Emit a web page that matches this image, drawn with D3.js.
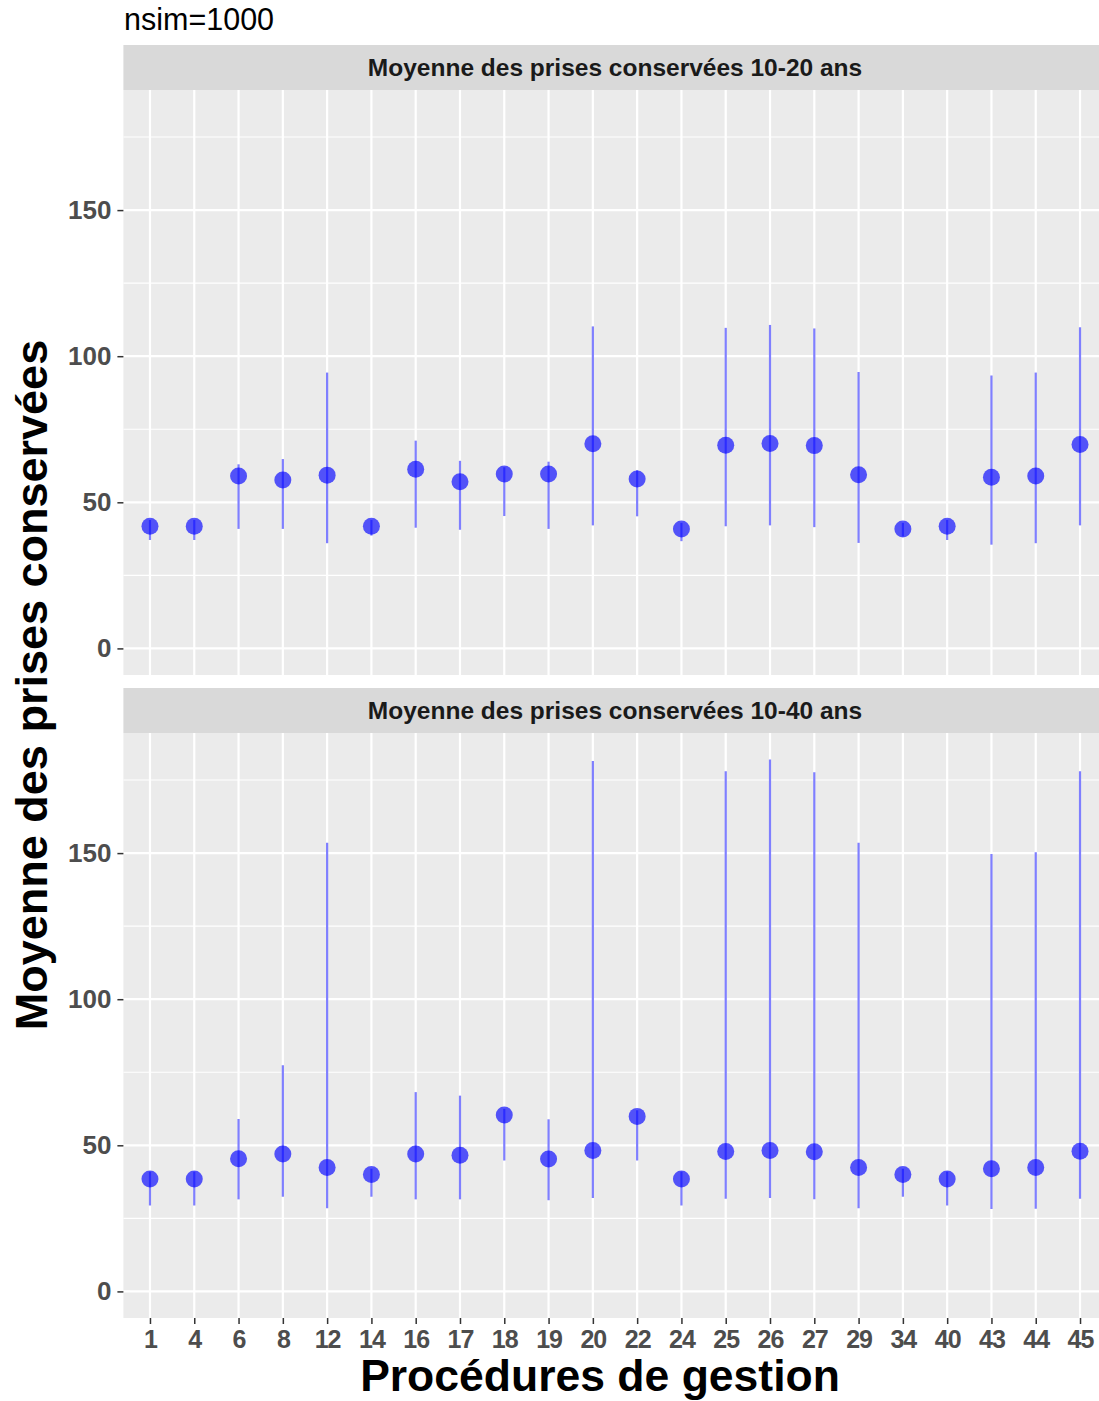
<!DOCTYPE html>
<html>
<head>
<meta charset="utf-8">
<script src="https://cdn.jsdelivr.net/npm/d3@7"></script>
<style>
  body { margin: 0; background: #fff; }
  svg { display: block; font-family: "Liberation Sans", Arial, sans-serif; }
</style>
</head>
<body>
<svg id="chart" width="1099" height="1401"></svg>
<script>
// procedures (x categories)
var categories = ["1", "4", "6", "8", "12", "14", "16", "17", "18", "19", "20",
  "22", "24", "25", "26", "27", "29", "34", "40", "43", "44", "45"];

var panelTitles = ["Moyenne des prises conservées 10-20 ans",
  "Moyenne des prises conservées 10-40 ans"];

// 10-20 ans
var mean1 = [41.8, 41.8, 59.0, 57.6, 59.3, 41.8, 61.3, 57.0, 59.7, 59.7, 70.0,
  58.0, 40.9, 69.5, 70.1, 69.4, 59.4, 40.9, 41.8, 58.6, 59.0, 69.8];
var low1 = [37.1, 37.1, 40.9, 40.9, 36.0, 38.6, 41.3, 40.6, 45.3, 40.9, 42.1,
  45.2, 36.7, 41.8, 42.1, 41.5, 36.1, 38.3, 37.1, 35.5, 36.0, 42.1];
var high1 = [44, 44, 63.0, 64.8, 94.4, 44, 71.1, 64.2, 62, 63.9, 110.2,
  61, 43, 109.7, 110.7, 109.5, 94.6, 43, 44, 93.4, 94.4, 109.9];

// 10-40 ans
var mean2 = [38.5, 38.5, 45.4, 47.0, 42.4, 40.0, 47.0, 46.6, 60.4, 45.3, 48.2,
  59.9, 38.5, 47.9, 48.2, 47.8, 42.4, 40.0, 38.5, 42.0, 42.4, 48.0];
var low2 = [29.4, 29.4, 31.5, 32.4, 28.5, 32.4, 31.5, 31.5, 44.8, 31.2, 32.0,
  44.8, 29.4, 31.7, 32.0, 31.5, 28.5, 32.4, 29.4, 28.2, 28.3, 31.7];
var high2 = [41, 41, 59.0, 77.4, 153.5, 42, 68.2, 67.0, 62.5, 58.9, 181.5,
  62, 41, 178, 182, 177.7, 153.5, 42, 41, 149.7, 150.3, 178];

var yTicks = [0, 50, 100, 150];
var yMinor = [25, 75, 125, 175];

(function () {
  "use strict";
  var svg = d3.select("#chart");

  var left = 123.4, right = 1106.6;     // panel runs past the right edge (cropped)
  var panels = [
    { top: 90, bottom: 675, strip: 45, mean: mean1, low: low1, high: high1, title: panelTitles[0] },
    { top: 733, bottom: 1318, strip: 688, mean: mean2, low: low2, high: high2, title: panelTitles[1] }
  ];

  var x = d3.scalePoint().domain(categories).range([left, right]).padding(0.6);

  // fixed y scale shared by facets, limits include 0, expanded 5%
  var ymax = d3.max(high1.concat(high2));
  var span = ymax - 0;

  panels.forEach(function (p, pi) {
    var y = d3.scaleLinear()
      .domain([0 - 0.05 * span, ymax + 0.05 * span])
      .range([p.bottom, p.top]);

    // strip
    svg.append("rect")
      .attr("x", left).attr("y", p.strip)
      .attr("width", right - left).attr("height", p.top - p.strip)
      .attr("fill", "#D9D9D9");
    svg.append("text")
      .attr("x", (left + right) / 2).attr("y", (p.strip + p.top) / 2 + 8.5)
      .attr("text-anchor", "middle")
      .attr("font-size", 24.5).attr("font-weight", "bold").attr("fill", "#1A1A1A")
      .text(p.title);

    // panel background
    svg.append("rect")
      .attr("x", left).attr("y", p.top)
      .attr("width", right - left).attr("height", p.bottom - p.top)
      .attr("fill", "#EBEBEB");

    var g = svg.append("g");
    g.selectAll("line.minor").data(yMinor).enter().append("line")
      .attr("x1", left).attr("x2", right)
      .attr("y1", y).attr("y2", y)
      .attr("stroke", "#fff").attr("stroke-width", 1.1);
    g.selectAll("line.major").data(yTicks).enter().append("line")
      .attr("x1", left).attr("x2", right)
      .attr("y1", y).attr("y2", y)
      .attr("stroke", "#fff").attr("stroke-width", 2.2);
    g.selectAll("line.vx").data(categories).enter().append("line")
      .attr("x1", x).attr("x2", x)
      .attr("y1", p.top).attr("y2", p.bottom)
      .attr("stroke", "#fff").attr("stroke-width", 2.2);

    // whiskers
    g.selectAll("line.rng").data(categories).enter().append("line")
      .attr("x1", x).attr("x2", x)
      .attr("y1", function (d, i) { return y(p.low[i]); })
      .attr("y2", function (d, i) { return y(p.high[i]); })
      .attr("stroke", "blue").attr("stroke-opacity", 0.5).attr("stroke-width", 2.2);

    // means
    g.selectAll("circle").data(categories).enter().append("circle")
      .attr("cx", x)
      .attr("cy", function (d, i) { return y(p.mean[i]); })
      .attr("r", 8.5)
      .attr("fill", "blue").attr("fill-opacity", 0.65);

    // y axis
    var ya = svg.append("g")
      .attr("transform", "translate(" + left + ",0)")
      .call(d3.axisLeft(y).tickValues(yTicks).tickSize(6).tickPadding(6));
    ya.select(".domain").remove();
    ya.selectAll(".tick line").attr("stroke", "#333").attr("stroke-width", 1.5);
    ya.selectAll(".tick text")
      .attr("font-size", 26).attr("font-weight", "bold").attr("fill", "#4D4D4D")
      .attr("font-family", "Liberation Sans, Arial, sans-serif");

    if (pi === 1) {
      var xa = svg.append("g")
        .attr("transform", "translate(0," + p.bottom + ")")
        .call(d3.axisBottom(x).tickSize(6).tickPadding(6));
      xa.select(".domain").remove();
      xa.selectAll(".tick line").attr("stroke", "#333").attr("stroke-width", 1.5);
      xa.selectAll(".tick text")
        .attr("font-size", 25).attr("font-weight", "bold").attr("fill", "#4D4D4D")
        .attr("letter-spacing", -1)
        .attr("font-family", "Liberation Sans, Arial, sans-serif");
    }
  });

  // titles
  svg.append("text")
    .attr("x", 124).attr("y", 30)
    .attr("font-size", 30.5).attr("fill", "#000")
    .text("nsim=1000");

  svg.append("text")
    .attr("x", 600).attr("y", 1391)
    .attr("text-anchor", "middle")
    .attr("font-size", 44.5).attr("font-weight", "bold").attr("fill", "#000")
    .text("Procédures de gestion");

  svg.append("text")
    .attr("transform", "translate(47,685) rotate(-90)")
    .attr("text-anchor", "middle")
    .attr("font-size", 45).attr("font-weight", "bold").attr("fill", "#000")
    .text("Moyenne des prises conservées");
})();
</script>
</body>
</html>
